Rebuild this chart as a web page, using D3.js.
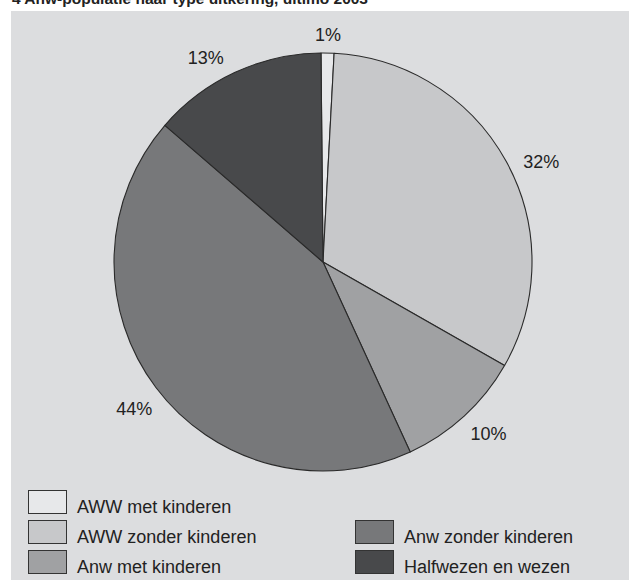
<!DOCTYPE html>
<html><head><meta charset="utf-8">
<script src="https://cdn.jsdelivr.net/npm/d3@7"></script>
<style>body{margin:0;background:#fff}svg{display:block}</style>
</head><body>
<script>
const title = "4 Anw-populatie naar type uitkering, ultimo 2003";
const categories = ["AWW met kinderen","AWW zonder kinderen","Anw met kinderen","Anw zonder kinderen","Halfwezen en wezen"];
const values = [1.0, 32.4, 9.9, 43.2, 13.5];
const labels = ["1%","32%","10%","44%","13%"];
const labelNudgeDeg = [0, 4, -1.5, -1, -5];
const colors = ["#e7e8ea","#c7c8ca","#a0a1a3","#77787a","#48494b"];

const W = 629, H = 580;
const svg = d3.select("body").append("svg").attr("width", W).attr("height", H);
const font = "Liberation Sans, Arial, sans-serif";

svg.append("text").attr("x", 12).attr("y", 4).attr("font-family", font)
  .attr("font-weight", "bold").attr("font-size", 15.5).attr("fill", "#222").text(title);

svg.append("rect").attr("x", 11).attr("y", 11).attr("width", 618).attr("height", H - 11).attr("fill", "#dcdddf");

const cx = 323, cy = 262, r = 209;
const start = -0.55 * Math.PI / 180;
const pie = d3.pie().sort(null).startAngle(start).endAngle(start + 2 * Math.PI);
const arcs = pie(values);
const arc = d3.arc().innerRadius(0).outerRadius(r);

const g = svg.append("g").attr("transform", `translate(${cx},${cy})`);
g.selectAll("path").data(arcs).join("path")
  .attr("d", arc).attr("fill", (d, i) => colors[i])
  .attr("stroke", "#2a2a2a").attr("stroke-width", 1.1).attr("stroke-linejoin", "round");

const gap = 12;
g.selectAll("text").data(arcs).join("text")
  .attr("text-anchor", "middle").attr("dy", "0.36em")
  .attr("font-family", font).attr("font-size", 18).attr("fill", "#222")
  .text((d, i) => labels[i])
  .each(function(d, i) {
    const bb = this.getBBox();
    const a = (d.startAngle + d.endAngle) / 2 + labelNudgeDeg[i] * Math.PI / 180;
    const s = Math.sin(a), c = -Math.cos(a);
    const ext = Math.abs(s) * bb.width / 2 + Math.abs(c) * 6.5;
    const dist = r + gap + ext;
    d3.select(this).attr("x", s * dist).attr("y", c * dist);
  });

// legend
const slots = [[0,0],[0,1],[0,2],[1,1],[1,2]];
const colX = [28, 355], rowY = [490, 520, 550];
const leg = svg.append("g");
categories.forEach((c, i) => {
  const [col, row] = slots[i];
  const x = colX[col], y = rowY[row];
  leg.append("rect").attr("x", x + 0.5).attr("y", y + 0.5).attr("width", 38).attr("height", 23)
    .attr("fill", colors[i]).attr("stroke", "#333").attr("stroke-width", 1);
  leg.append("text").attr("x", x + 49).attr("y", y + 23).attr("font-family", font)
    .attr("font-size", 18).attr("fill", "#222").text(c);
});
</script>
</body></html>
